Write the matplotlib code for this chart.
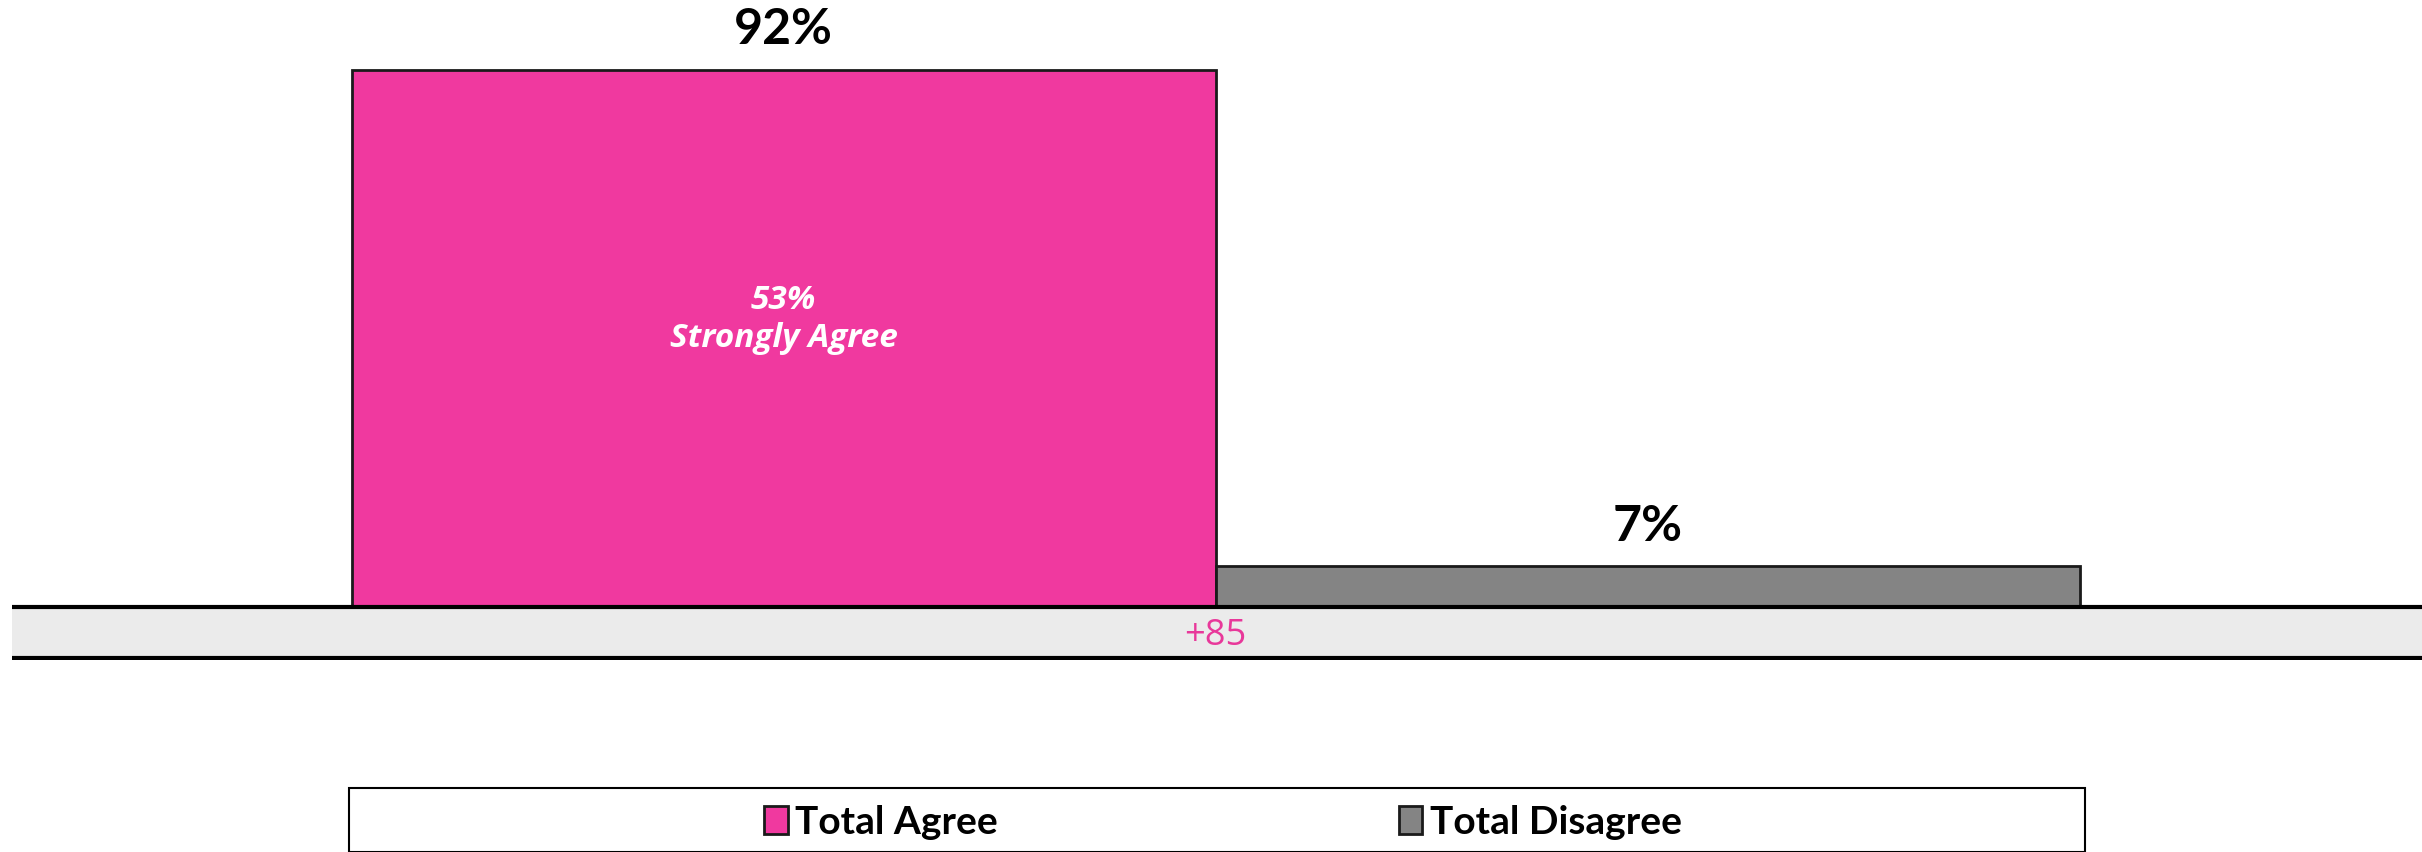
import matplotlib
matplotlib.use('Agg')
import matplotlib.pyplot as plt
from matplotlib.patches import Patch, Rectangle

categories = ['Total Agree', 'Total Disagree']
values = [92, 7]
colors = ['#F0399F', '#848484']
strong_agree = 53
net = values[0] - values[1]

W, H = 2422, 852
fig = plt.figure(figsize=(W / 100, H / 100), dpi=100)
ax = fig.add_axes([12 / W, (H - 660) / H, (W - 12) / W, 660 / H])

x = list(range(len(categories)))
bars = ax.bar(x, values, width=1.0, color=colors, edgecolor='#1a1a1a', linewidth=2, zorder=3)
ax.set_xlim(-0.893, 1.896)
ax.set_ylim(-9.07, 103.9)

# net band under the bars
ax.axhspan(-9.07, 0, color='#EBEBEB', zorder=1)
ax.axhline(0, color='black', lw=3, zorder=4)
ax.axhline(-8.7, color='black', lw=3, zorder=4)
ax.text(0.5, -4.9, f'+{net}', ha='center', va='center', fontsize=26,
        color='#E8389A', family=['Open Sans', 'DejaVu Sans'])

for xi, v in zip(x, values):
    ax.text(xi, v + 6.8, f'{v}%', ha='center', va='center', fontsize=36,
            fontweight='bold', family=['Lato', 'DejaVu Sans'])

ax.text(0, 49.2, f'{strong_agree}%\nStrongly Agree', ha='center', va='center',
        fontsize=24, color='white', fontweight='bold', fontstyle='italic',
        linespacing=1.2, family=['Open Sans', 'DejaVu Sans'])

ax.axis('off')

# legend box
fig.patches.append(Rectangle((349 / W, 0), (2085 - 349) / W, 64 / H,
                             transform=fig.transFigure, facecolor='white',
                             edgecolor='black', lw=1.5))
handles = [Patch(facecolor=c, edgecolor='#1a1a1a', lw=2) for c in colors]
leg = fig.legend(handles, categories, loc='center', bbox_to_anchor=(1223 / W, 30 / H),
                 ncol=2, frameon=False, handlelength=0.6, handleheight=0.7,
                 handletextpad=0.2, columnspacing=10.3,
                 prop={'family': ['Lato', 'DejaVu Sans'], 'weight': 'bold', 'size': 28})

fig.savefig('out.png', dpi=100)
